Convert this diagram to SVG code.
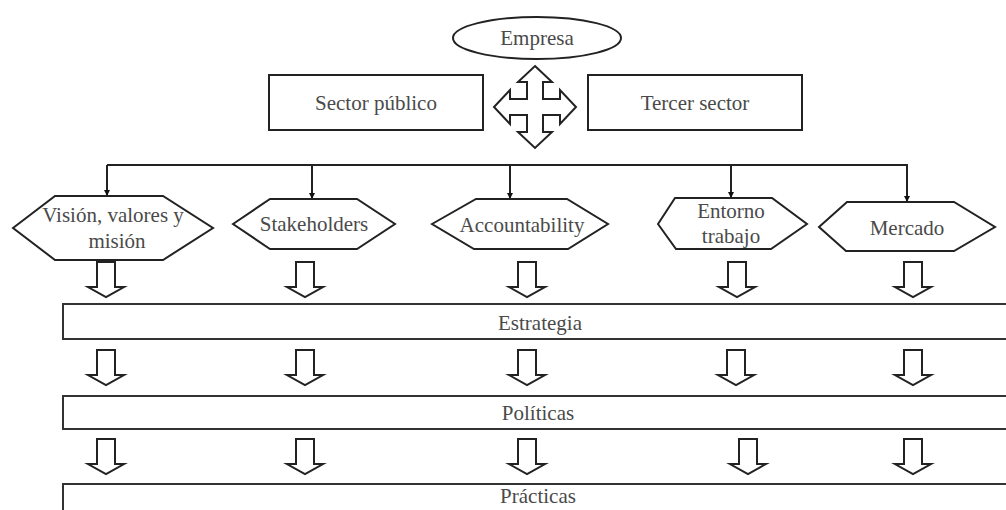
<svg xmlns="http://www.w3.org/2000/svg" width="1006" height="510" viewBox="0 0 1006 510">
  <defs>
    <style>
      .shape { fill: #ffffff; stroke: #222222; stroke-width: 2; }
      .bar { fill: #ffffff; stroke: #333333; stroke-width: 2; }
      .label { font-family: 'Liberation Serif', 'Times New Roman', 'DejaVu Serif', serif; font-size: 21px; fill: #4a4a4a; text-anchor: middle; }
      .wire { fill: none; stroke: #222222; stroke-width: 2; }
      .down { fill: #ffffff; stroke: #222222; stroke-width: 2; stroke-linejoin: miter; }
    </style>
    <marker id="tip" viewBox="0 0 10 10" refX="10" refY="5" markerWidth="6" markerHeight="6" markerUnits="userSpaceOnUse" orient="auto">
      <path d="M0,0 L10,5 L0,10 Z" fill="#111111"/>
    </marker>
    <!-- hollow block arrow pointing down, origin at top centre of the shaft -->
    <path id="blockDown" d="M-9,0 L9,0 L9,25 L18,25 L0,35 L-18,25 L-9,25 Z"/>
  </defs>
  <rect width="1006" height="510" fill="#ffffff"/>

  <g font-family="Liberation Serif, Times New Roman, DejaVu Serif, serif">
  <!-- top: company and sectors -->
  <g id="empresa">
    <ellipse class="shape" cx="537" cy="38" rx="84" ry="21"/>
    <text class="label" x="537" y="45">Empresa</text>
  </g>
  <g id="sector-publico">
    <rect class="shape" x="269" y="75" width="214" height="55"/>
    <text class="label" x="376" y="110">Sector público</text>
  </g>
  <g id="tercer-sector">
    <rect class="shape" x="588" y="75" width="214" height="55"/>
    <text class="label" x="695" y="110">Tercer sector</text>
  </g>
  <g id="cruce">
    <path class="shape" d="M535,66 L552,82 L543,82 L543,99 L560,99 L560,90 L576,107 L560,124 L560,115 L543,115 L543,132 L552,132 L535,148 L518,132 L527,132 L527,115 L510,115 L510,124 L494,107 L510,90 L510,99 L527,99 L527,82 L518,82 Z"/>
  </g>

  <!-- distribution line to the five dimensions -->
  <g id="connectors">
    <path class="wire" d="M107,165 L908,165"/>
    <path class="wire" d="M107,165 L107,196" marker-end="url(#tip)"/>
    <path class="wire" d="M312,165 L312,199" marker-end="url(#tip)"/>
    <path class="wire" d="M510,165 L510,199" marker-end="url(#tip)"/>
    <path class="wire" d="M731,165 L731,198" marker-end="url(#tip)"/>
    <path class="wire" d="M907,165 L907,202" marker-end="url(#tip)"/>
  </g>

  <!-- dimensions -->
  <g id="vision">
    <polygon class="shape" points="13,228 55,196 163,196 213,228 163,260 55,260"/>
    <text class="label" x="113" y="222">Visión, valores y</text>
    <text class="label" x="117" y="248">misión</text>
  </g>
  <g id="stakeholders">
    <polygon class="shape" points="233,224 270,199 357,199 395,224 357,249 270,249"/>
    <text class="label" x="314" y="231">Stakeholders</text>
  </g>
  <g id="accountability">
    <polygon class="shape" points="432,224 476,199 567,199 608,224 568,249 474,249"/>
    <text class="label" x="522" y="232">Accountability</text>
  </g>
  <g id="entorno">
    <polygon class="shape" points="658,224 675,198 772,198 807,224 771,249 676,249"/>
    <text class="label" x="731" y="218">Entorno</text>
    <text class="label" x="731" y="243">trabajo</text>
  </g>
  <g id="mercado">
    <polygon class="shape" points="819,227 847,202 954,202 995,227 954,251 846,251"/>
    <text class="label" x="907" y="235">Mercado</text>
  </g>

  <!-- block arrows into the strategy bar -->
  <g id="flechas-1">
    <use href="#blockDown" class="down" x="106" y="262"/>
    <use href="#blockDown" class="down" x="305" y="262"/>
    <use href="#blockDown" class="down" x="527" y="262"/>
    <use href="#blockDown" class="down" x="737" y="262"/>
    <use href="#blockDown" class="down" x="913" y="262"/>
  </g>
  <g id="estrategia">
    <rect class="bar" x="63" y="304" width="960" height="35"/>
    <text class="label" x="540" y="330">Estrategia</text>
  </g>

  <g id="flechas-2">
    <use href="#blockDown" class="down" x="106" y="350"/>
    <use href="#blockDown" class="down" x="305" y="350"/>
    <use href="#blockDown" class="down" x="527" y="350"/>
    <use href="#blockDown" class="down" x="736" y="350"/>
    <use href="#blockDown" class="down" x="913" y="350"/>
  </g>
  <g id="politicas">
    <rect class="bar" x="63" y="396" width="960" height="33"/>
    <text class="label" x="538" y="420">Políticas</text>
  </g>

  <g id="flechas-3">
    <use href="#blockDown" class="down" x="106" y="439"/>
    <use href="#blockDown" class="down" x="305" y="439"/>
    <use href="#blockDown" class="down" x="527" y="439"/>
    <use href="#blockDown" class="down" x="748" y="439"/>
    <use href="#blockDown" class="down" x="913" y="439"/>
  </g>
  <g id="practicas">
    <rect class="bar" x="63" y="484" width="960" height="40"/>
    <text class="label" x="538" y="503">Prácticas</text>
  </g>
  </g>
</svg>
